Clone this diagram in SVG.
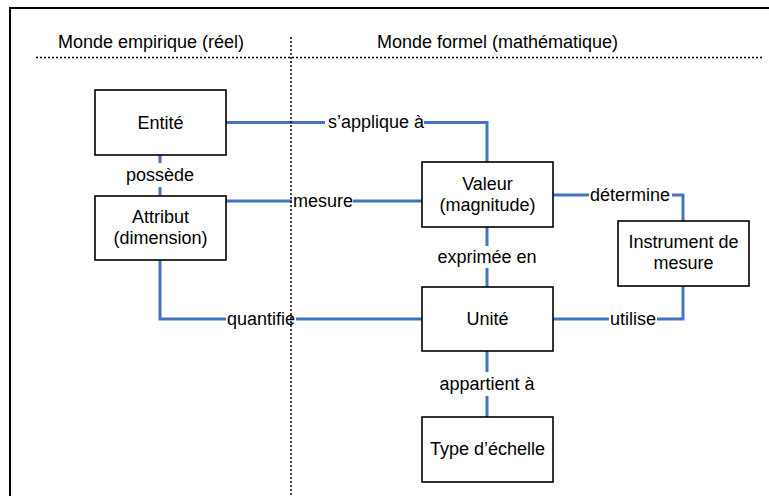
<svg xmlns="http://www.w3.org/2000/svg" width="769" height="496" viewBox="0 0 769 496">
<style>
text{font-family:"Liberation Sans",Arial,sans-serif;font-size:18px;fill:#000}
.c{text-anchor:middle}
.box{fill:#fff;stroke:#000;stroke-width:1.6}
.con{fill:none;stroke:#4472C4;stroke-width:3}
.dot{stroke:#000;stroke-width:1.5;stroke-dasharray:2 2;fill:none}
</style>
<rect x="0" y="0" width="769" height="496" fill="#fff"/>
<rect x="10" y="8" width="800" height="600" fill="none" stroke="#000" stroke-width="2"/>
<g id="headers">
<text x="58" y="48">Monde empirique (réel)</text>
<text x="377" y="48">Monde formel (mathématique)</text>
</g>
<g id="connectors">
<path class="con" d="M160 155V163M160 187V196"/>
<path class="con" d="M226 122.5H325M424 122.5H487V162"/>
<path class="con" d="M226 201H292M353 201H422"/>
<path class="con" d="M553 195H589M672 195H683V221"/>
<path class="con" d="M487 227V246M487 268V287"/>
<path class="con" d="M160 260V319H226M296 319H422"/>
<path class="con" d="M553 319H609M657 319H683V286"/>
<path class="con" d="M487 351V372M487 396V417"/>
<text class="c" x="160" y="181">possède</text>
<text x="328" y="128">s’applique à</text>
<text x="293" y="207">mesure</text>
<text x="590" y="201">détermine</text>
<text class="c" x="487" y="263">exprimée en</text>
<text x="227" y="325">quantifie</text>
<text x="610" y="325">utilise</text>
<text class="c" x="487" y="390">appartient à</text>
</g>
<g id="dividers">
<line class="dot" x1="36" y1="57.5" x2="762" y2="57.5"/>
<line class="dot" x1="291" y1="37" x2="291" y2="496"/>
</g>
<g id="entite"><rect class="box" x="95" y="90" width="131" height="65"/><text class="c" x="160.5" y="129">Entité</text></g>
<g id="attribut"><rect class="box" x="95" y="196" width="131" height="64"/><text class="c" x="160.5" y="223">Attribut</text><text class="c" x="160.5" y="244">(dimension)</text></g>
<g id="valeur"><rect class="box" x="422" y="162" width="131" height="65"/><text class="c" x="487.5" y="190">Valeur</text><text class="c" x="487.5" y="211">(magnitude)</text></g>
<g id="instrument"><rect class="box" x="618" y="221" width="131" height="65"/><text class="c" x="683.5" y="248">Instrument de</text><text class="c" x="683.5" y="269">mesure</text></g>
<g id="unite"><rect class="box" x="422" y="287" width="131" height="64"/><text class="c" x="487.5" y="325">Unité</text></g>
<g id="type"><rect class="box" x="422" y="417" width="131" height="65"/><text class="c" x="487.5" y="455">Type d’échelle</text></g>
</svg>
